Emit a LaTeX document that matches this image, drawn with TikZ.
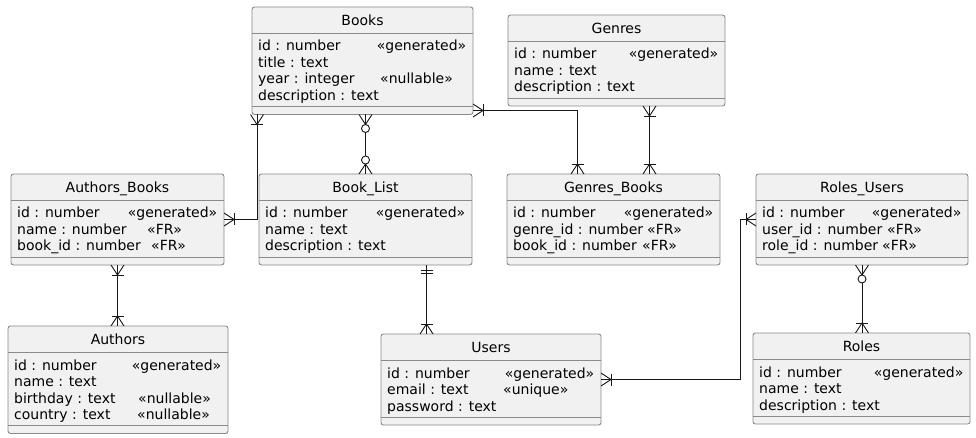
\documentclass[tikz,border=0pt]{standalone}
\usepackage{fontspec}
\setmainfont{DejaVu Sans}
\usetikzlibrary{calc}
\definecolor{boxfill}{HTML}{F1F1F1}
\definecolor{boxline}{HTML}{8A8A8A}
\definecolor{lnk}{HTML}{181818}
\tikzset{
 ebox/.style={draw=boxline, fill=boxfill, rounded corners=2.5pt, line width=0.9pt, inner sep=0pt, outer sep=0pt, anchor=north west},
 div/.style={draw=boxline, line width=0.9pt},
 ttl/.style={anchor=base, inner sep=0pt, font=\fontsize{14}{16}\selectfont},
 fld/.style={anchor=base west, inner sep=0pt, font=\fontsize{14}{16}\selectfont},
 conn/.style={draw=lnk, line width=1pt},
 mk/.style={draw=lnk, line width=0.9pt},
 pics/onemany/.style={code={\draw[mk] (0,-6.5)--(10,0)--(0,6.5); \draw[mk] (10,-6)--(10,6);}},
 pics/zeromany/.style={code={\draw[mk] (0,-6.5)--(10,0)--(0,6.5); \draw[mk,fill=white] (14,0) circle (4pt);}},
 pics/onlyone/.style={code={\draw[mk] (5,-6)--(5,6); \draw[mk] (8,-6)--(8,6);}},
}
\newcommand\erbox[6]{%
 \pgfmathsetmacro\ebw{#4-#2}%
 \pgfmathsetmacro\ebh{26+#5*16.5+7.5+8}%
 \node[ebox, minimum width=\ebw pt, minimum height=\ebh pt] (#1) at (#2,#3) {};
 \draw[div] ([yshift=-26pt]#1.north west) -- ([yshift=-26pt]#1.north east);
 \draw[div] ([yshift=8pt]#1.south west) -- ([yshift=8pt]#1.south east);
 \node[ttl] (#1-title) at ([yshift=-18.7pt]#1.north) {#6};
}
\newcommand\erow[3]{%
 \pgfmathsetmacro\ery{44+(#2-1)*16.5}%
 \node[fld] (#1-r#2) at ([xshift=6pt,yshift=-\ery pt]#1.north west) {#3};
}
% stereotype at an absolute x
\newcommand\esty[4]{%
 \node[fld] (#1-s#2) at (#3,0 |- #1-r#2.base) {#4};
}
% «generated», right aligned in the box
\newcommand\egen[2]{%
 \node[fld, anchor=base east] (#1-s#2) at ([xshift=-6.5pt]#1.east |- #1-r#2.base) {«generated»};
}
\begin{document}
\begin{tikzpicture}[x=1pt,y=-1pt]
\fill[white] (0,0) rectangle (976,438);
\useasboundingbox (0,0) rectangle (976,438);

% Books
\erbox{books}{252}{7}{473}{4}{Books}
\erow{books}{1}{id : number}\egen{books}{1}
\erow{books}{2}{title : text}
\erow{books}{3}{year : integer}\esty{books}{3}{380}{«nullable»}
\erow{books}{4}{description : text}

% Genres
\erbox{genres}{508}{15}{725}{3}{Genres}
\erow{genres}{1}{id : number}\egen{genres}{1}
\erow{genres}{2}{name : text}
\erow{genres}{3}{description : text}

% Authors_Books
\erbox{ab}{11}{174}{224}{3}{Authors\_Books}
\erow{ab}{1}{id : number}\egen{ab}{1}
\erow{ab}{2}{name : number}\esty{ab}{2}{147}{«FR»}
\erow{ab}{3}{book\_id : number}\esty{ab}{3}{151}{«FR»}

% Book_List
\erbox{booklist}{259}{174}{472}{3}{Book\_List}
\erow{booklist}{1}{id : number}\egen{booklist}{1}
\erow{booklist}{2}{name : text}
\erow{booklist}{3}{description : text}

% Genres_Books
\erbox{gb}{507}{174}{720}{3}{Genres\_Books}
\erow{gb}{1}{id : number}\egen{gb}{1}
\erow{gb}{2}{genre\_id : number}\esty{gb}{2}{647}{«FR»}
\erow{gb}{3}{book\_id : number}\esty{gb}{3}{642}{«FR»}

% Roles_Users
\erbox{ru}{756}{174}{968}{3}{Roles\_Users}
\erow{ru}{1}{id : number}\egen{ru}{1}
\erow{ru}{2}{user\_id : number}\esty{ru}{2}{887}{«FR»}
\erow{ru}{3}{role\_id : number}\esty{ru}{3}{882}{«FR»}

% Authors
\erbox{authors}{8}{326}{228}{4}{Authors}
\erow{authors}{1}{id : number}\egen{authors}{1}
\erow{authors}{2}{name : text}
\erow{authors}{3}{birthday : text}\esty{authors}{3}{138}{«nullable»}
\erow{authors}{4}{country : text}\esty{authors}{4}{137}{«nullable»}

% Users
\erbox{users}{381}{334}{601}{3}{Users}
\erow{users}{1}{id : number}\egen{users}{1}
\erow{users}{2}{email : text}\esty{users}{2}{503}{«unique»}
\erow{users}{3}{password : text}

% Roles
\erbox{roles}{753}{333}{970}{3}{Roles}
\erow{roles}{1}{id : number}\egen{roles}{1}
\erow{roles}{2}{name : text}
\erow{roles}{3}{description : text}

% helper coordinates
\coordinate (bkL) at ([xshift=5pt]books.south west);
\coordinate (bkR) at ([yshift=4pt]books.south east);
\coordinate (gbL) at ([xshift=-36pt]gb.north);
\coordinate (gbR) at ([xshift=36pt]gb.north);
\coordinate (m6) at ($(users.west)!0.5!(booklist.east)$);
\coordinate (ruL) at ([xshift=-16pt]ru.west);

% connectors
\draw[conn] (bkL) |- (ab.east);
\draw[conn] (booklist.north |- books.south) -- (booklist.north);
\draw[conn] (bkR) -| (gbL);
\draw[conn] (gbR |- genres.south) -- (gbR);
\draw[conn] (ab.south) -- (ab.south |- authors.north);
\draw[conn] (m6 |- booklist.south) -- (m6 |- users.north);
\draw[conn] (users.east) -| (ruL) -- (ru.west);
\draw[conn] (ru.south) -- (ru.south |- roles.north);

% end markers
\pic[rotate=-90] at (bkL) {onemany};
\pic[rotate=0] at (ab.east) {onemany};
\pic[rotate=-90] at (booklist.north |- books.south) {zeromany};
\pic[rotate=90] at (booklist.north) {zeromany};
\pic[rotate=0] at (bkR) {onemany};
\pic[rotate=90] at (gbL) {onemany};
\pic[rotate=-90] at (gbR |- genres.south) {onemany};
\pic[rotate=90] at (gbR) {onemany};
\pic[rotate=-90] at (ab.south) {onemany};
\pic[rotate=90] at (ab.south |- authors.north) {onemany};
\pic[rotate=-90] at (m6 |- booklist.south) {onlyone};
\pic[rotate=90] at (m6 |- users.north) {onemany};
\pic[rotate=0] at (users.east) {onemany};
\pic[rotate=180] at (ru.west) {onemany};
\pic[rotate=-90] at (ru.south) {zeromany};
\pic[rotate=90] at (ru.south |- roles.north) {onemany};
\end{tikzpicture}
\end{document}
